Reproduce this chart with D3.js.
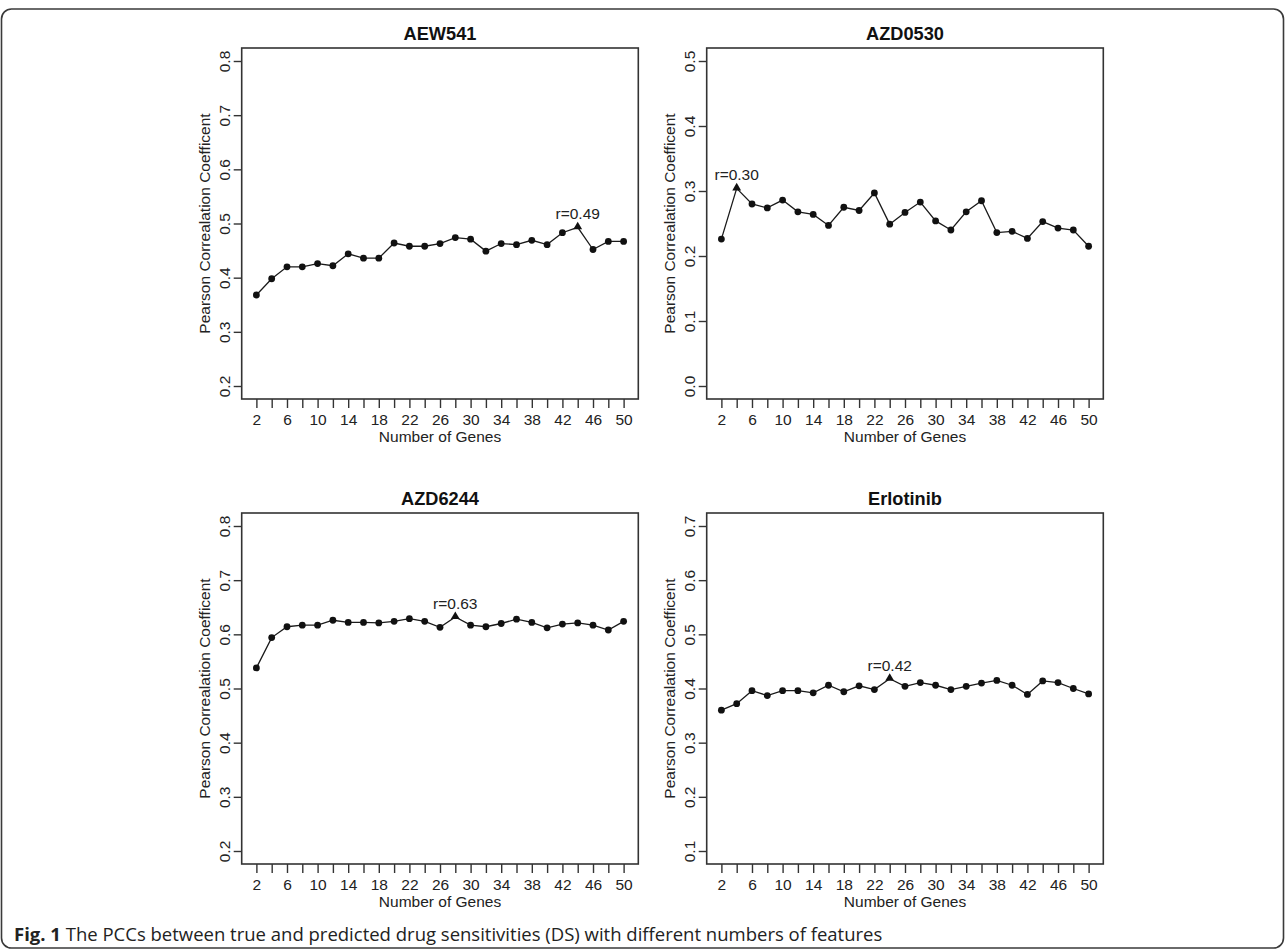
<!DOCTYPE html>
<html>
<head>
<meta charset="utf-8">
<script src="https://cdn.jsdelivr.net/npm/d3@7"></script>
<style>
  body { margin: 0; background: #fff; }
  svg { display: block; }
  .tick text { font-family: "Liberation Sans", Arial, sans-serif; font-size: 15.5px; fill: #222; }
  .tick line { stroke: #333; stroke-width: 1.4; }
</style>
</head>
<body>
<div class="center"></div>
<script>
// canvas
var width = 1287, height = 952;

// number of genes (x categories)
var genes = [2, 4, 6, 8, 10, 12, 14, 16, 18, 20, 22, 24, 26, 28, 30, 32, 34, 36, 38, 40, 42, 44, 46, 48, 50];
var xTickLabels = [2, 6, 10, 14, 18, 22, 26, 30, 34, 38, 42, 46, 50];

// PCC values
var aew541 = [0.368, 0.398, 0.420, 0.420, 0.426, 0.422, 0.444, 0.436, 0.436, 0.464, 0.458, 0.458, 0.463,
              0.474, 0.471, 0.449, 0.463, 0.461, 0.469, 0.461, 0.483, 0.493, 0.452, 0.467, 0.467];
var azd0530 = [0.226, 0.304, 0.280, 0.274, 0.286, 0.268, 0.264, 0.247, 0.275, 0.270, 0.297, 0.249, 0.267,
               0.283, 0.254, 0.240, 0.268, 0.285, 0.236, 0.238, 0.227, 0.253, 0.243, 0.240, 0.215];
var azd6244 = [0.538, 0.594, 0.614, 0.617, 0.617, 0.626, 0.622, 0.622, 0.621, 0.624, 0.629, 0.624, 0.613,
               0.632, 0.617, 0.614, 0.620, 0.628, 0.622, 0.612, 0.619, 0.621, 0.617, 0.608, 0.624];
var erlotinib = [0.360, 0.372, 0.396, 0.387, 0.396, 0.396, 0.392, 0.406, 0.394, 0.405, 0.398, 0.418, 0.404,
                 0.411, 0.406, 0.398, 0.404, 0.410, 0.415, 0.406, 0.389, 0.414, 0.411, 0.400, 0.390];

// y tick values for each panel
var ticksAEW541 = [0.2, 0.3, 0.4, 0.5, 0.6, 0.7, 0.8];
var ticksAZD0530 = [0.0, 0.1, 0.2, 0.3, 0.4, 0.5];
var ticksAZD6244 = [0.2, 0.3, 0.4, 0.5, 0.6, 0.7, 0.8];
var ticksErlotinib = [0.1, 0.2, 0.3, 0.4, 0.5, 0.6, 0.7];

// best value label for each panel
var bestLabels = ["r=0.49", "r=0.30", "r=0.63", "r=0.42"];

var panels = [
  {title: "AEW541", values: aew541, ticks: ticksAEW541, label: bestLabels[0], col: 0, row: 0},
  {title: "AZD0530", values: azd0530, ticks: ticksAZD0530, label: bestLabels[1], col: 1, row: 0},
  {title: "AZD6244", values: azd6244, ticks: ticksAZD6244, label: bestLabels[2], col: 0, row: 1},
  {title: "Erlotinib", values: erlotinib, ticks: ticksErlotinib, label: bestLabels[3], col: 1, row: 1}
];

// panel geometry (plot box)
var boxLeft = 241.7, boxTop = 48, step = 465,
    boxW = 396.6, boxH = 351;

var font = '"Liberation Sans", Arial, sans-serif';

var svg = d3.select(".center").append("svg")
    .attr("width", width)
    .attr("height", height);

// outer frame
svg.append("rect")
    .attr("x", 1.5).attr("y", 9)
    .attr("width", 1282).attr("height", 939)
    .attr("rx", 10).attr("ry", 10)
    .style("fill", "none")
    .style("stroke", "#3a3a3a")
    .style("stroke-width", 1.6);

panels.forEach(function(p) {
    var g = svg.append("g")
        .attr("transform", "translate(" + (boxLeft + p.col * step) + "," + (boxTop + p.row * step) + ")");

    // R-style 4% padding on both scales
    var xmin = d3.min(genes), xmax = d3.max(genes), xpad = (xmax - xmin) * 0.04;
    var x = d3.scaleLinear().domain([xmin - xpad, xmax + xpad]).range([0, boxW]);
    var ymin = d3.min(p.ticks), ymax = d3.max(p.ticks), ypad = (ymax - ymin) * 0.04;
    var y = d3.scaleLinear().domain([ymin - ypad, ymax + ypad]).range([boxH, 0]);

    // x axis
    var xa = g.append("g")
        .attr("transform", "translate(0," + boxH + ")")
        .call(d3.axisBottom(x).tickValues(genes).tickSize(9)
            .tickFormat(function(d) { return xTickLabels.indexOf(d) >= 0 ? d : ""; }));
    xa.select(".domain").remove();
    xa.selectAll(".tick text").attr("y", 26).attr("dy", null);

    // y axis, labels parallel to axis
    var ya = g.append("g")
        .call(d3.axisLeft(y).tickValues(p.ticks).tickSize(8).tickFormat(d3.format(".1f")));
    ya.select(".domain").remove();
    ya.selectAll(".tick text")
        .attr("x", null).attr("dy", null)
        .attr("transform", "translate(-11.5,0) rotate(-90)")
        .style("text-anchor", "middle");

    // box
    g.append("rect")
        .attr("width", boxW).attr("height", boxH)
        .style("fill", "none")
        .style("stroke", "#333")
        .style("stroke-width", 1.6);

    // line
    var line = d3.line()
        .x(function(d, i) { return x(genes[i]); })
        .y(function(d) { return y(d); });
    g.append("path")
        .datum(p.values)
        .attr("d", line)
        .style("fill", "none")
        .style("stroke", "#1a1a1a")
        .style("stroke-width", 1.3);

    // points: best one is drawn as a triangle
    var best = d3.maxIndex(p.values);
    var idx = d3.range(p.values.length).filter(function(i) { return i !== best; });
    g.selectAll("circle")
        .data(idx)
        .enter().append("circle")
        .attr("cx", function(i) { return x(genes[i]); })
        .attr("cy", function(i) { return y(p.values[i]); })
        .attr("r", 3.4)
        .style("fill", "#111");

    g.append("path")
        .attr("d", d3.symbol().type(d3.symbolTriangle).size(34))
        .attr("transform", "translate(" + x(genes[best]) + "," + (y(p.values[best]) - 0.5) + ")")
        .style("fill", "#111");

    g.append("text")
        .attr("x", x(genes[best]))
        .attr("y", y(p.values[best]) - 8)
        .attr("text-anchor", "middle")
        .style("font-family", font)
        .style("font-size", "15.5px")
        .style("fill", "#222")
        .text(p.label);

    // title
    g.append("text")
        .attr("x", boxW / 2)
        .attr("y", -8)
        .attr("text-anchor", "middle")
        .style("font-family", font)
        .style("font-weight", "bold")
        .style("font-size", "18.2px")
        .style("fill", "#111")
        .text(p.title);

    // axis titles
    g.append("text")
        .attr("x", boxW / 2)
        .attr("y", boxH + 42.7)
        .attr("text-anchor", "middle")
        .style("font-family", font)
        .style("font-size", "15.5px")
        .style("fill", "#222")
        .text("Number of Genes");

    g.append("text")
        .attr("transform", "translate(-32," + (boxH / 2) + ") rotate(-90)")
        .attr("text-anchor", "middle")
        .style("font-family", font)
        .style("font-size", "15.5px")
        .style("fill", "#222")
        .text("Pearson Correalation Coefficent");
});

// caption
var cap = svg.append("text")
    .attr("x", 14)
    .attr("y", 941)
    .style("font-family", '"Open Sans", sans-serif')
    .style("font-size", "18.5px")
    .style("fill", "#222");
cap.append("tspan").style("font-weight", "bold").text("Fig. 1");
cap.append("tspan").text(" The PCCs between true and predicted drug sensitivities (DS) with different numbers of features");
</script>
</body>
</html>
